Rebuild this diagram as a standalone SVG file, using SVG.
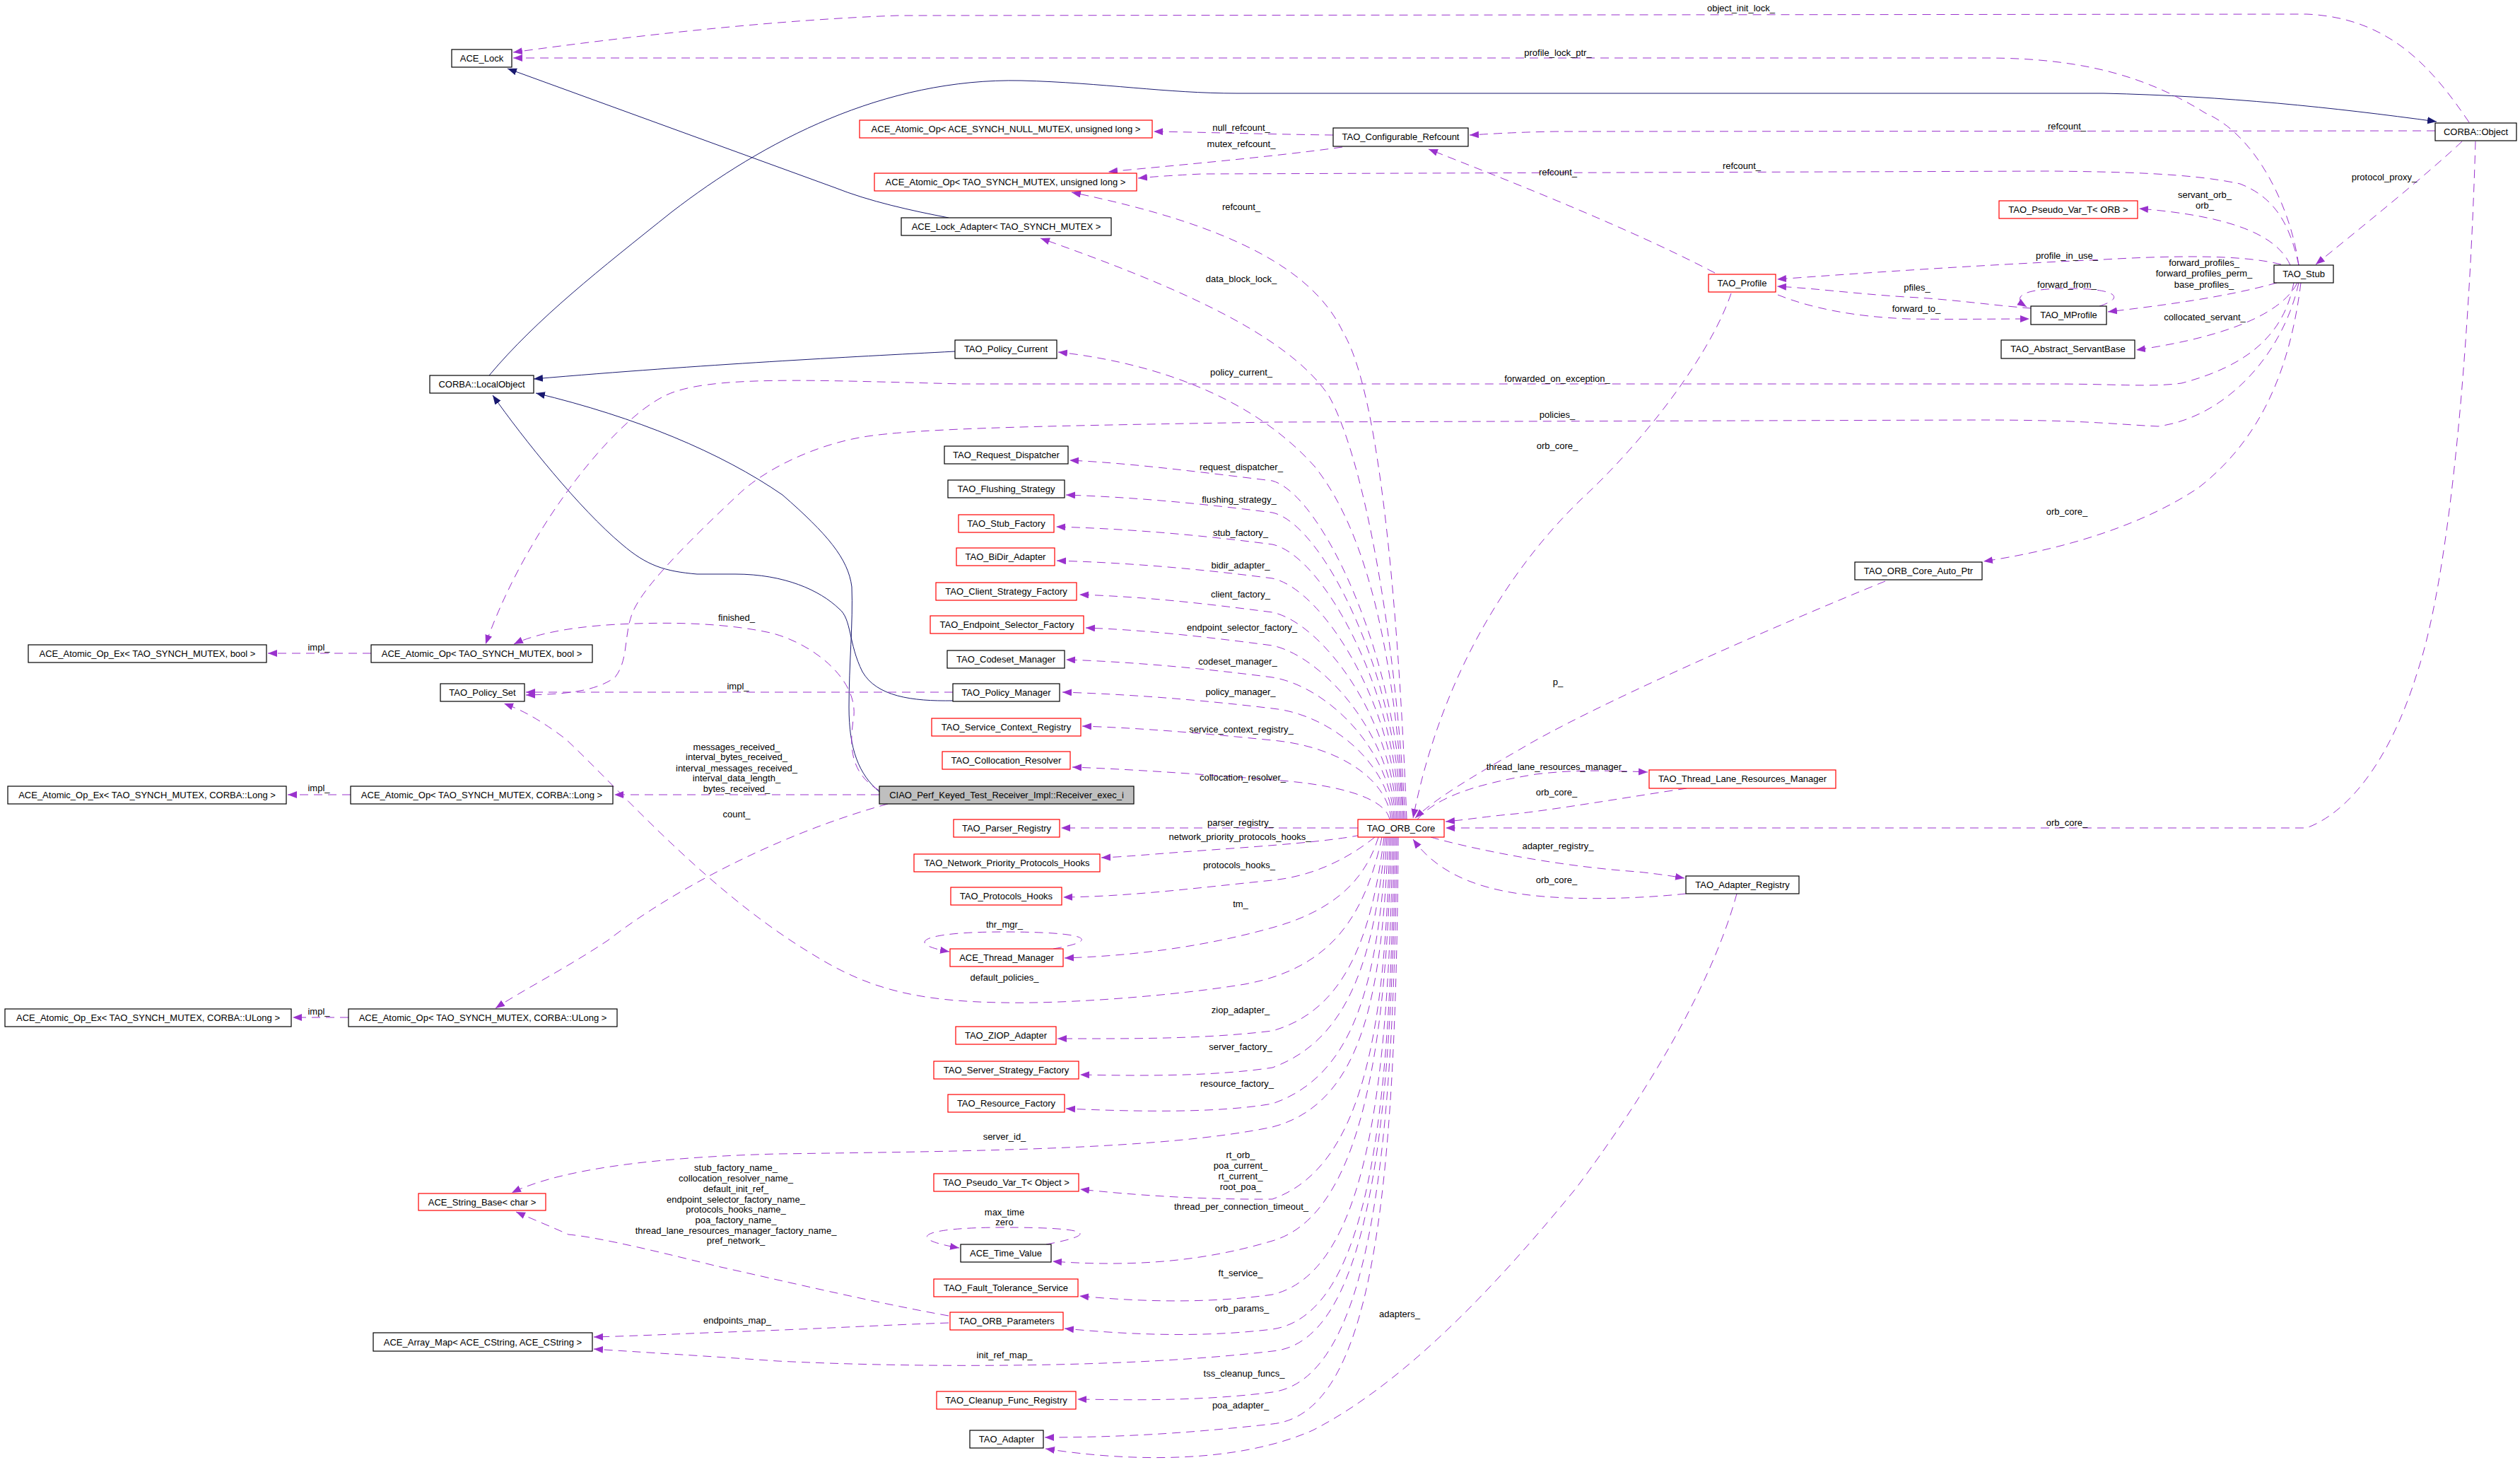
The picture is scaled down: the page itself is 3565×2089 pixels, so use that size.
<svg xmlns="http://www.w3.org/2000/svg" width="3565" height="2089" viewBox="0 0 3565 2089">
<style>
text{font-family:"Liberation Sans",Arial,sans-serif;font-size:13px;fill:#000;text-anchor:middle}
.nd rect{fill:#fff;stroke:#000;stroke-width:1.2}
.nd.r rect{stroke:#ff0000}
.nd.g rect{fill:#bfbfbf}
#edges .u{fill:none;stroke:#9a32cd;stroke-width:1;stroke-dasharray:12,8;marker-end:url(#ap)}
#edges .i{fill:none;stroke:#191970;stroke-width:1;marker-end:url(#ai)}
</style>
<defs>
<marker id="ap" markerUnits="userSpaceOnUse" markerWidth="14" markerHeight="11" refX="13" refY="5" orient="auto"><path d="M0,0 L13,5 L0,10 z" style="fill:#9a32cd;stroke:none"/></marker>
<marker id="ai" markerUnits="userSpaceOnUse" markerWidth="14" markerHeight="11" refX="13" refY="5" orient="auto"><path d="M0,0 L13,5 L0,10 z" style="fill:#191970;stroke:none"/></marker>
</defs>
<rect width="3565" height="2089" fill="#fff"/>
<g id="edges">
<path class="i" d="M1342,308 C1290,298 1230,285 1180,265 L718,97"/>
<path class="i" d="M692,531 C760,450 850,380 950,300 C1080,200 1250,110 1445,114 C1560,117 1650,132 1750,132 L2976,132 C3150,136 3300,152 3447,172"/>
<path class="i" d="M1351,497 C1200,505 1000,515 755,536"/>
<path class="i" d="M1348,991 C1290,992 1240,985 1220,950 C1200,910 1205,875 1187,861 C1160,835 1110,812 1040,812 L986,812 C940,808 915,800 880,770 C820,720 740,620 697,559"/>
<path class="i" d="M1244,1120 C1215,1095 1201,1060 1201,1000 C1201,940 1207,880 1205,830 C1200,790 1170,755 1107,700 C1020,640 900,590 758,556"/>
<path class="u" d="M3493,173 C3440,95 3380,25 3263,20 L1270,22 C1100,28 900,50 726,74"/>
<path class="u" d="M3252,375 C3240,290 3190,190 3120,160 C3040,110 2950,82 2810,82 L726,82"/>
<path class="u" d="M3445,185 L2200,186 C2140,187 2100,190 2079,191"/>
<path class="u" d="M1886,191 C1800,190 1700,187 1632,186"/>
<path class="u" d="M1899,208 C1800,222 1650,235 1568,243"/>
<path class="u" d="M3252,375 C3240,320 3220,280 3169,260 C3100,245 3000,243 2900,242 L1700,246 C1660,248 1630,250 1610,252"/>
<path class="u" d="M2426,386 C2300,320 2120,250 2021,211"/>
<path class="u" d="M1990,1159 C1980,900 1955,560 1900,470 C1860,385 1750,320 1516,272"/>
<path class="u" d="M1988,1159 C1975,900 1930,650 1880,560 C1820,470 1650,400 1472,337"/>
<path class="u" d="M1986,1159 C1975,950 1940,760 1860,660 C1780,570 1650,515 1497,498"/>
<path class="u" d="M1984,1159 C1979,930 1870,700 1800,680 C1700,668 1600,655 1513,651"/>
<path class="u" d="M1982,1159 C1977,952 1870,740 1800,725 C1700,712 1600,703 1508,700"/>
<path class="u" d="M1980,1159 C1975,973 1870,785 1800,770 C1700,757 1600,748 1494,745"/>
<path class="u" d="M1978,1159 C1973,994 1870,833 1800,818 C1700,805 1600,796 1495,793"/>
<path class="u" d="M1976,1159 C1971,1016 1870,881 1800,866 C1700,853 1620,844 1527,841"/>
<path class="u" d="M1974,1159 C1969,1037 1870,928 1800,913 C1700,900 1620,891 1536,888"/>
<path class="u" d="M1972,1159 C1967,1057 1875,970 1800,958 C1700,945 1600,936 1508,933"/>
<path class="u" d="M1970,1159 C1965,1078 1880,1010 1800,1002 C1700,990 1600,982 1503,979"/>
<path class="u" d="M1968,1159 C1963,1100 1890,1055 1800,1047 C1700,1037 1620,1030 1531,1027"/>
<path class="u" d="M1966,1159 C1960,1130 1900,1110 1800,1103 C1700,1095 1600,1088 1517,1085"/>
<path class="u" d="M1921,1171 L1501,1171"/>
<path class="u" d="M1925,1181 C1880,1190 1800,1196 1700,1203 C1630,1208 1590,1212 1558,1213"/>
<path class="u" d="M1945,1184 C1900,1220 1850,1240 1800,1245 C1700,1255 1600,1268 1504,1269"/>
<path class="u" d="M1950,1184 C1930,1250 1880,1290 1800,1312 C1700,1340 1600,1352 1506,1355"/>
<path class="u" d="M1955,1184 C1930,1300 1880,1370 1761,1392 C1650,1410 1500,1420 1417,1418 C1300,1416 1230,1400 1150,1350 C1000,1260 880,1120 800,1045 C760,1015 735,1003 713,995"/>
<path class="u" d="M1958,1184 C1940,1330 1900,1430 1800,1458 C1700,1470 1600,1469 1496,1469"/>
<path class="u" d="M1960,1184 C1945,1350 1910,1470 1800,1510 C1720,1522 1620,1522 1528,1520"/>
<path class="u" d="M1962,1184 C1950,1380 1920,1520 1800,1561 C1720,1575 1600,1572 1508,1568"/>
<path class="u" d="M1964,1184 C1955,1400 1930,1560 1800,1594 C1650,1625 1400,1628 1100,1632 C950,1636 800,1650 724,1687"/>
<path class="u" d="M1966,1184 C1960,1450 1930,1650 1800,1696 C1700,1697 1600,1690 1528,1682"/>
<path class="u" d="M1968,1184 C1962,1500 1920,1720 1800,1755 C1700,1785 1600,1792 1489,1784"/>
<path class="u" d="M1970,1184 C1965,1550 1930,1800 1800,1831 C1700,1845 1600,1840 1527,1833"/>
<path class="u" d="M1972,1184 C1968,1580 1935,1860 1800,1880 C1700,1892 1600,1888 1506,1879"/>
<path class="u" d="M1974,1184 C1970,1620 1930,1900 1800,1911 C1600,1935 1300,1935 1100,1925 C1000,1918 900,1912 840,1908"/>
<path class="u" d="M1976,1184 C1972,1650 1935,1950 1800,1969 C1700,1982 1600,1980 1524,1979"/>
<path class="u" d="M1978,1184 C1975,1700 1940,2000 1800,2014 C1700,2025 1600,2033 1478,2033"/>
<path class="u" d="M1490,1342 C1560,1330 1540,1318 1420,1318 C1300,1318 1280,1335 1343,1346"/>
<path class="u" d="M1480,1760 C1560,1745 1540,1736 1420,1736 C1300,1736 1280,1752 1357,1765"/>
<path class="u" d="M1342,1861 C1250,1845 1100,1810 1015,1791 C950,1775 850,1750 804,1746 C780,1735 755,1725 730,1714"/>
<path class="u" d="M1342,1871 C1250,1874 1150,1880 1000,1885 C930,1888 880,1890 840,1891"/>
<path class="u" d="M1244,1124 L869,1124"/>
<path class="u" d="M1244,1118 C1205,1095 1200,1060 1208,1012 C1212,960 1150,910 1090,895 C1030,882 960,880 900,882 C820,884 760,895 727,911"/>
<path class="u" d="M1256,1137 C1100,1180 950,1260 860,1330 C800,1370 740,1400 701,1426"/>
<path class="u" d="M1348,979 L744,979"/>
<path class="u" d="M525,924 L379,924"/>
<path class="u" d="M496,1124 L407,1124"/>
<path class="u" d="M493,1439 L414,1439"/>
<path class="u" d="M3245,400 C3230,480 3170,520 3086,542 C3040,548 3000,543 2900,543 L1360,543 C1150,538 1000,530 940,560 C860,600 740,760 687,911"/>
<path class="u" d="M3252,400 C3230,500 3150,590 3053,603 C2990,600 2950,594 2800,594 L1800,597 C1500,602 1300,605 1221,618 C1150,630 1080,665 1044,700 C980,760 920,820 900,856 C880,890 892,930 870,958 C840,980 790,982 744,983"/>
<path class="u" d="M3255,400 C3240,520 3200,620 3110,690 C3020,750 2900,780 2806,794"/>
<path class="u" d="M3502,200 C3495,450 3470,800 3420,950 C3380,1080 3320,1150 3263,1171 L2045,1171"/>
<path class="u" d="M2449,415 C2420,500 2330,620 2236,707 C2140,800 2040,950 1999,1157"/>
<path class="u" d="M2667,822 C2500,890 2250,1000 2150,1060 C2080,1100 2030,1130 2002,1157"/>
<path class="u" d="M2005,1159 C2030,1130 2080,1110 2173,1095 C2230,1088 2280,1090 2331,1092"/>
<path class="u" d="M2386,1115 C2300,1128 2200,1145 2144,1151 C2100,1155 2070,1160 2045,1162"/>
<path class="u" d="M2024,1184 C2080,1200 2200,1225 2317,1233 C2345,1236 2365,1239 2383,1242"/>
<path class="u" d="M2385,1264 C2330,1270 2230,1275 2156,1265 C2080,1255 2030,1230 1999,1187"/>
<path class="u" d="M2457,1264 C2420,1400 2320,1560 2230,1680 C2140,1790 2000,1950 1857,2023 C1750,2070 1600,2068 1479,2049"/>
<path class="u" d="M3227,374 C3180,362 3100,360 2976,367 C2800,375 2650,385 2514,395"/>
<path class="u" d="M2873,436 C2820,432 2760,423 2696,420 C2620,415 2570,408 2514,405"/>
<path class="u" d="M2515,417 C2560,435 2620,448 2700,451 C2760,452 2820,451 2871,451"/>
<path class="u" d="M2970,433 C3010,420 2990,408 2926,408 C2860,408 2845,420 2867,434"/>
<path class="u" d="M3221,400 C3150,420 3060,432 2982,441"/>
<path class="u" d="M3240,375 C3220,330 3150,305 3026,295"/>
<path class="u" d="M3250,400 C3230,440 3160,475 3022,495"/>
<path class="u" d="M3483,200 C3430,250 3330,330 3276,374"/>
</g>
<g id="edge-labels">
<text x="2463" y="16">object_init_lock_</text>
<text x="2204" y="79">profile_lock_ptr_</text>
<text x="1756" y="185">null_refcount_</text>
<text x="1756" y="208">mutex_refcount_</text>
<text x="1756" y="297">refcount_</text>
<text x="2204" y="248">refcount_</text>
<text x="2464" y="239">refcount_</text>
<text x="2924" y="183">refcount_</text>
<text x="1756" y="399">data_block_lock_</text>
<text x="1756" y="531">policy_current_</text>
<text x="2203" y="540">forwarded_on_exception_</text>
<text x="2203" y="591">policies_</text>
<text x="2203" y="635">orb_core_</text>
<text x="1756" y="665">request_dispatcher_</text>
<text x="1753" y="711">flushing_strategy_</text>
<text x="1755" y="758">stub_factory_</text>
<text x="1755" y="804">bidir_adapter_</text>
<text x="1755" y="845">client_factory_</text>
<text x="1757" y="892">endpoint_selector_factory_</text>
<text x="1751" y="940">codeset_manager_</text>
<text x="1755" y="983">policy_manager_</text>
<text x="1756" y="1036">service_context_registry_</text>
<text x="1758" y="1104">collocation_resolver_</text>
<text x="1755" y="1168">parser_registry_</text>
<text x="1754" y="1188">network_priority_protocols_hooks_</text>
<text x="1753" y="1228">protocols_hooks_</text>
<text x="1755" y="1283">tm_</text>
<text x="1421" y="1312">thr_mgr_</text>
<text x="1421" y="1387">default_policies_</text>
<text x="1755" y="1433">ziop_adapter_</text>
<text x="1755" y="1485">server_factory_</text>
<text x="1750" y="1537">resource_factory_</text>
<text x="1421" y="1612">server_id_</text>
<text x="1755" y="1638">rt_orb_</text>
<text x="1755" y="1653">poa_current_</text>
<text x="1755" y="1668">rt_current_</text>
<text x="1755" y="1683">root_poa_</text>
<text x="1756" y="1711">thread_per_connection_timeout_</text>
<text x="1421" y="1719">max_time</text>
<text x="1421" y="1733">zero</text>
<text x="1755" y="1805">ft_service_</text>
<text x="1757" y="1855">orb_params_</text>
<text x="1041" y="1656">stub_factory_name_</text>
<text x="1041" y="1671">collocation_resolver_name_</text>
<text x="1041" y="1686">default_init_ref_</text>
<text x="1041" y="1701">endpoint_selector_factory_name_</text>
<text x="1041" y="1715">protocols_hooks_name_</text>
<text x="1041" y="1730">poa_factory_name_</text>
<text x="1041" y="1745">thread_lane_resources_manager_factory_name_</text>
<text x="1041" y="1759">pref_network_</text>
<text x="1043" y="1872">endpoints_map_</text>
<text x="1421" y="1921">init_ref_map_</text>
<text x="1760" y="1947">tss_cleanup_funcs_</text>
<text x="1755" y="1992">poa_adapter_</text>
<text x="1980" y="1863">adapters_</text>
<text x="1042" y="878">finished_</text>
<text x="1044" y="975">impl_</text>
<text x="1042" y="1061">messages_received_</text>
<text x="1042" y="1075">interval_bytes_received_</text>
<text x="1042" y="1091">interval_messages_received_</text>
<text x="1042" y="1105">interval_data_length_</text>
<text x="1042" y="1120">bytes_received_</text>
<text x="1042" y="1156">count_</text>
<text x="451" y="920">impl_</text>
<text x="451" y="1119">impl_</text>
<text x="451" y="1435">impl_</text>
<text x="2204" y="969">p_</text>
<text x="2202" y="1089">thread_lane_resources_manager_</text>
<text x="2202" y="1125">orb_core_</text>
<text x="2204" y="1201">adapter_registry_</text>
<text x="2202" y="1249">orb_core_</text>
<text x="2924" y="728">orb_core_</text>
<text x="2924" y="1168">orb_core_</text>
<text x="3373" y="255">protocol_proxy_</text>
<text x="3119" y="280">servant_orb_</text>
<text x="3119" y="295">orb_</text>
<text x="2924" y="366">profile_in_use_</text>
<text x="3118" y="376">forward_profiles_</text>
<text x="3118" y="391">forward_profiles_perm_</text>
<text x="3118" y="407">base_profiles_</text>
<text x="2924" y="407">forward_from_</text>
<text x="2712" y="411">pfiles_</text>
<text x="2711" y="441">forward_to_</text>
<text x="3119" y="453">collocated_servant_</text>
</g>
<g id="n-ace-lock" class="nd"><rect x="639" y="70" width="85" height="25"/><text x="681.5" y="87">ACE_Lock</text></g>
<g id="n-localobject" class="nd"><rect x="608" y="531" width="147" height="25"/><text x="681.5" y="548">CORBA::LocalObject</text></g>
<g id="n-atomic-null-ul" class="nd r"><rect x="1216" y="170" width="414" height="25"/><text x="1423" y="187">ACE_Atomic_Op&lt; ACE_SYNCH_NULL_MUTEX, unsigned long &gt;</text></g>
<g id="n-atomic-tao-ul" class="nd r"><rect x="1237" y="245" width="371" height="25"/><text x="1422.5" y="262">ACE_Atomic_Op&lt; TAO_SYNCH_MUTEX, unsigned long &gt;</text></g>
<g id="n-lock-adapter" class="nd"><rect x="1275" y="308" width="297" height="25"/><text x="1423.5" y="325">ACE_Lock_Adapter&lt; TAO_SYNCH_MUTEX &gt;</text></g>
<g id="n-conf-refcount" class="nd"><rect x="1886" y="181" width="191" height="26"/><text x="1981.5" y="198">TAO_Configurable_Refcount</text></g>
<g id="n-corba-object" class="nd"><rect x="3445" y="174" width="115" height="25"/><text x="3502.5" y="191">CORBA::Object</text></g>
<g id="n-pseudo-orb" class="nd r"><rect x="2828" y="284" width="196" height="25"/><text x="2926" y="301">TAO_Pseudo_Var_T&lt; ORB &gt;</text></g>
<g id="n-profile" class="nd r"><rect x="2417" y="388" width="95" height="25"/><text x="2464.5" y="405">TAO_Profile</text></g>
<g id="n-stub" class="nd"><rect x="3217" y="375" width="84" height="25"/><text x="3259" y="392">TAO_Stub</text></g>
<g id="n-mprofile" class="nd"><rect x="2873" y="433" width="107" height="26"/><text x="2926.5" y="450">TAO_MProfile</text></g>
<g id="n-servantbase" class="nd"><rect x="2831" y="481" width="189" height="26"/><text x="2925.5" y="498">TAO_Abstract_ServantBase</text></g>
<g id="n-policy-current" class="nd"><rect x="1351" y="481" width="144" height="26"/><text x="1423" y="498">TAO_Policy_Current</text></g>
<g id="n-request-dispatcher" class="nd"><rect x="1336" y="631" width="175" height="25"/><text x="1423.5" y="648">TAO_Request_Dispatcher</text></g>
<g id="n-flushing" class="nd"><rect x="1341" y="679" width="165" height="25"/><text x="1423.5" y="696">TAO_Flushing_Strategy</text></g>
<g id="n-stub-factory" class="nd r"><rect x="1356" y="728" width="135" height="25"/><text x="1423.5" y="745">TAO_Stub_Factory</text></g>
<g id="n-bidir" class="nd r"><rect x="1353" y="775" width="139" height="25"/><text x="1422.5" y="792">TAO_BiDir_Adapter</text></g>
<g id="n-client-strategy" class="nd r"><rect x="1324" y="824" width="199" height="25"/><text x="1423.5" y="841">TAO_Client_Strategy_Factory</text></g>
<g id="n-endpoint-selector" class="nd r"><rect x="1316" y="871" width="217" height="25"/><text x="1424.5" y="888">TAO_Endpoint_Selector_Factory</text></g>
<g id="n-codeset" class="nd"><rect x="1340" y="920" width="166" height="25"/><text x="1423" y="937">TAO_Codeset_Manager</text></g>
<g id="n-policy-manager" class="nd"><rect x="1348" y="967" width="151" height="25"/><text x="1423.5" y="984">TAO_Policy_Manager</text></g>
<g id="n-service-context" class="nd r"><rect x="1318" y="1016" width="211" height="25"/><text x="1423.5" y="1033">TAO_Service_Context_Registry</text></g>
<g id="n-collocation" class="nd r"><rect x="1333" y="1063" width="181" height="25"/><text x="1423.5" y="1080">TAO_Collocation_Resolver</text></g>
<g id="n-receiver" class="nd g"><rect x="1244" y="1112" width="360" height="25"/><text x="1424" y="1129">CIAO_Perf_Keyed_Test_Receiver_Impl::Receiver_exec_i</text></g>
<g id="n-parser" class="nd r"><rect x="1349" y="1159" width="150" height="25"/><text x="1424" y="1176">TAO_Parser_Registry</text></g>
<g id="n-network-priority" class="nd r"><rect x="1293" y="1208" width="263" height="25"/><text x="1424.5" y="1225">TAO_Network_Priority_Protocols_Hooks</text></g>
<g id="n-protocols-hooks" class="nd r"><rect x="1345" y="1255" width="157" height="25"/><text x="1423.5" y="1272">TAO_Protocols_Hooks</text></g>
<g id="n-thread-manager" class="nd r"><rect x="1344" y="1342" width="160" height="25"/><text x="1424" y="1359">ACE_Thread_Manager</text></g>
<g id="n-ziop" class="nd r"><rect x="1352" y="1452" width="142" height="25"/><text x="1423" y="1469">TAO_ZIOP_Adapter</text></g>
<g id="n-server-strategy" class="nd r"><rect x="1321" y="1501" width="205" height="25"/><text x="1423.5" y="1518">TAO_Server_Strategy_Factory</text></g>
<g id="n-resource-factory" class="nd r"><rect x="1341" y="1548" width="165" height="25"/><text x="1423.5" y="1565">TAO_Resource_Factory</text></g>
<g id="n-pseudo-object" class="nd r"><rect x="1321" y="1660" width="205" height="25"/><text x="1423.5" y="1677">TAO_Pseudo_Var_T&lt; Object &gt;</text></g>
<g id="n-time-value" class="nd"><rect x="1359" y="1760" width="128" height="25"/><text x="1423" y="1777">ACE_Time_Value</text></g>
<g id="n-fault-tolerance" class="nd r"><rect x="1321" y="1809" width="204" height="25"/><text x="1423" y="1826">TAO_Fault_Tolerance_Service</text></g>
<g id="n-orb-parameters" class="nd r"><rect x="1344" y="1856" width="160" height="25"/><text x="1424" y="1873">TAO_ORB_Parameters</text></g>
<g id="n-cleanup" class="nd r"><rect x="1325" y="1968" width="197" height="25"/><text x="1423.5" y="1985">TAO_Cleanup_Func_Registry</text></g>
<g id="n-adapter" class="nd"><rect x="1372" y="2023" width="104" height="25"/><text x="1424" y="2040">TAO_Adapter</text></g>
<g id="n-orb-core" class="nd r"><rect x="1921" y="1159" width="122" height="25"/><text x="1982" y="1176">TAO_ORB_Core</text></g>
<g id="n-tlrm" class="nd r"><rect x="2333" y="1089" width="264" height="26"/><text x="2465" y="1106">TAO_Thread_Lane_Resources_Manager</text></g>
<g id="n-adapter-registry" class="nd"><rect x="2385" y="1239" width="160" height="25"/><text x="2465" y="1256">TAO_Adapter_Registry</text></g>
<g id="n-orb-core-auto-ptr" class="nd"><rect x="2624" y="795" width="180" height="25"/><text x="2714" y="812">TAO_ORB_Core_Auto_Ptr</text></g>
<g id="n-atomic-ex-bool" class="nd"><rect x="40" y="912" width="337" height="25"/><text x="208.5" y="929">ACE_Atomic_Op_Ex&lt; TAO_SYNCH_MUTEX, bool &gt;</text></g>
<g id="n-atomic-bool" class="nd"><rect x="525" y="912" width="313" height="25"/><text x="681.5" y="929">ACE_Atomic_Op&lt; TAO_SYNCH_MUTEX, bool &gt;</text></g>
<g id="n-policy-set" class="nd"><rect x="623" y="967" width="119" height="25"/><text x="682.5" y="984">TAO_Policy_Set</text></g>
<g id="n-atomic-ex-long" class="nd"><rect x="11" y="1112" width="394" height="25"/><text x="208" y="1129">ACE_Atomic_Op_Ex&lt; TAO_SYNCH_MUTEX, CORBA::Long &gt;</text></g>
<g id="n-atomic-long" class="nd"><rect x="496" y="1112" width="371" height="25"/><text x="681.5" y="1129">ACE_Atomic_Op&lt; TAO_SYNCH_MUTEX, CORBA::Long &gt;</text></g>
<g id="n-atomic-ex-ulong" class="nd"><rect x="7" y="1427" width="405" height="25"/><text x="209.5" y="1444">ACE_Atomic_Op_Ex&lt; TAO_SYNCH_MUTEX, CORBA::ULong &gt;</text></g>
<g id="n-atomic-ulong" class="nd"><rect x="493" y="1427" width="380" height="25"/><text x="683" y="1444">ACE_Atomic_Op&lt; TAO_SYNCH_MUTEX, CORBA::ULong &gt;</text></g>
<g id="n-string-base" class="nd r"><rect x="592" y="1688" width="180" height="24"/><text x="682" y="1704.5">ACE_String_Base&lt; char &gt;</text></g>
<g id="n-array-map" class="nd"><rect x="528" y="1885" width="310" height="26"/><text x="683" y="1902.5">ACE_Array_Map&lt; ACE_CString, ACE_CString &gt;</text></g>
</svg>
